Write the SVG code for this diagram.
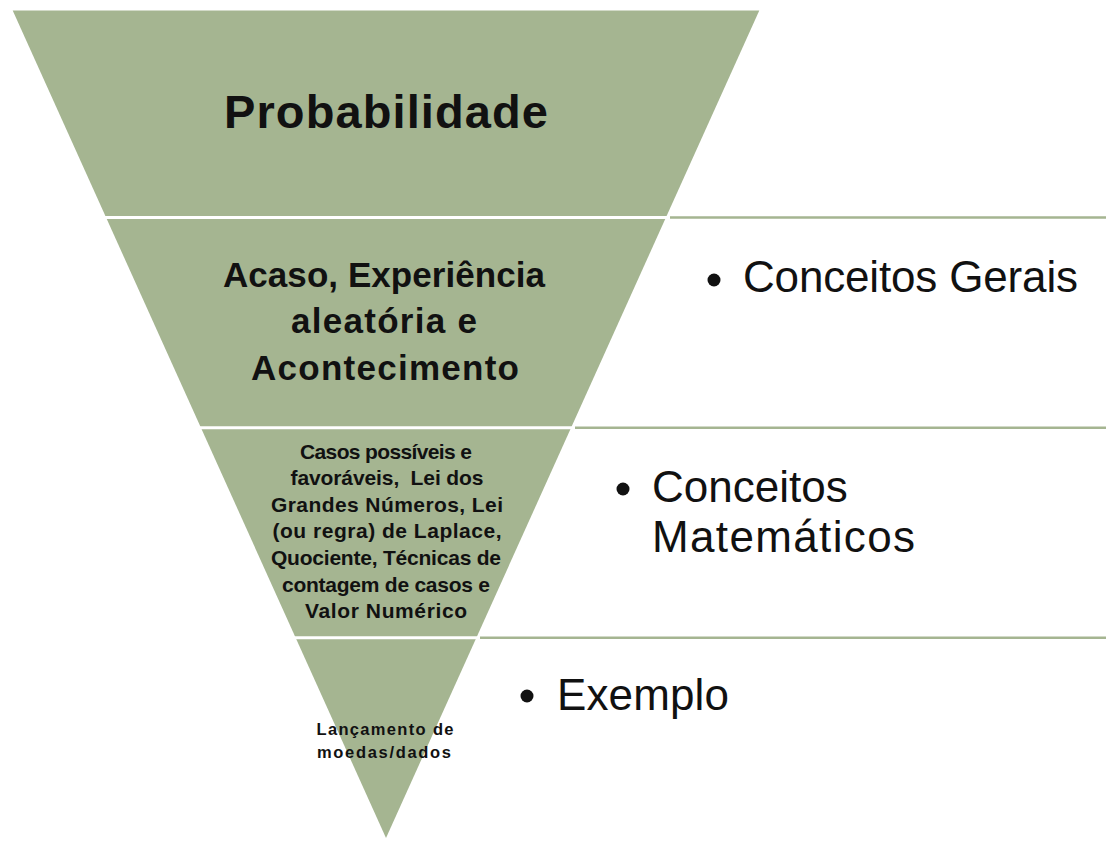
<svg xmlns="http://www.w3.org/2000/svg" width="1106" height="841" viewBox="0 0 1106 841">
<style>
.seg{fill:#a5b591}
.sep{stroke:#ffffff;stroke-width:3}
.box{stroke:#a5b591;stroke-width:2.5}
.t{font-family:"Liberation Sans",Arial,sans-serif;font-weight:bold;fill:#111;text-anchor:middle}
.r{font-family:"Liberation Sans",Arial,sans-serif;font-size:44px;fill:#111}
.b{fill:#111}
</style>
<rect width="1106" height="841" fill="#ffffff"/>
<g id="boxes">
  <g id="box1">
    <line class="box" x1="670" y1="217.5" x2="1106" y2="217.5"/>
    <circle class="b" cx="714" cy="280" r="6.5"/>
    <text class="r" x="743" y="292" textLength="335">Conceitos Gerais</text>
  </g>
  <g id="box2">
    <line class="box" x1="575" y1="427.7" x2="1106" y2="427.7"/>
    <circle class="b" cx="623" cy="489" r="6.5"/>
    <text class="r" x="652" y="502">Conceitos</text>
    <text class="r" x="652" y="552" textLength="263">Matemáticos</text>
  </g>
  <g id="box3">
    <line class="box" x1="480" y1="637.7" x2="1106" y2="637.7"/>
    <circle class="b" cx="527" cy="696" r="6.5"/>
    <text class="r" x="557" y="710" textLength="172">Exemplo</text>
  </g>
</g>
<g id="pyramid">
  <polygon class="seg" points="12.7,10.5 759.3,10.5 386,838"/>
</g>
<g id="separators">
  <line class="sep" x1="0" y1="217.5" x2="668" y2="217.5"/>
  <line class="sep" x1="0" y1="427.7" x2="573" y2="427.7"/>
  <line class="sep" x1="0" y1="637.7" x2="478" y2="637.7"/>
</g>
<g id="seg1">
  <text class="t" x="386" y="128" font-size="47" textLength="324">Probabilidade</text>
</g>
<g id="seg2">
  <text class="t" x="384" y="287" font-size="35" textLength="322">Acaso, Experiência</text>
  <text class="t" x="384" y="333" font-size="35" textLength="186">aleatória e</text>
  <text class="t" x="385" y="380" font-size="35" textLength="268">Acontecimento</text>
</g>
<g id="seg3">
  <text class="t" x="386" y="459" font-size="21" textLength="172">Casos possíveis e</text>
  <text class="t" x="387" y="485" font-size="21" textLength="193" xml:space="preserve">favoráveis,  Lei dos</text>
  <text class="t" x="387" y="512" font-size="21" textLength="232">Grandes Números, Lei</text>
  <text class="t" x="387" y="538" font-size="21" textLength="229">(ou regra) de Laplace,</text>
  <text class="t" x="386" y="565" font-size="21" textLength="230">Quociente, Técnicas de</text>
  <text class="t" x="386" y="592" font-size="21" textLength="208">contagem de casos e</text>
  <text class="t" x="386" y="618" font-size="21" textLength="162">Valor Numérico</text>
</g>
<g id="seg4">
  <text class="t" x="385" y="735" font-size="16.5" textLength="137">Lançamento de</text>
  <text class="t" x="384" y="758" font-size="16.5" textLength="134">moedas/dados</text>
</g>
</svg>
